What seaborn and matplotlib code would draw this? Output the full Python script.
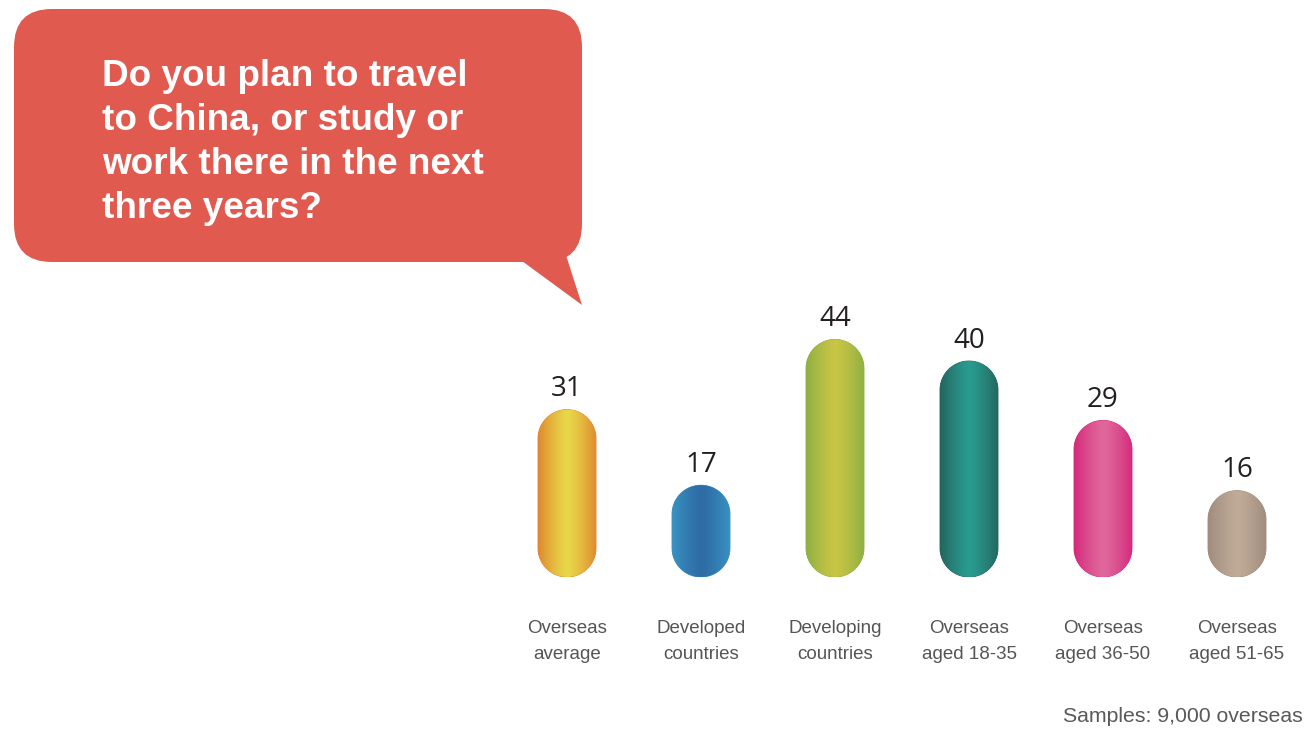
import numpy as np
import pandas as pd
import matplotlib
matplotlib.use("Agg")
import matplotlib.pyplot as plt
import seaborn as sns
from matplotlib.patches import FancyBboxPatch, Polygon, PathPatch
from matplotlib.path import Path
from matplotlib.colors import to_rgb

# ---- data ----
categories = ["Overseas\naverage", "Developed\ncountries", "Developing\ncountries",
              "Overseas\naged 18-35", "Overseas\naged 36-50", "Overseas\naged 51-65"]
values = [31, 17, 44, 40, 29, 16]
edge_colors = ["#E0872F", "#3B93C3", "#8DB043", "#23655E", "#D4297A", "#A08B7E"]
center_colors = ["#E7D84A", "#2E6CA6", "#C9C545", "#2A9B8F", "#E0679C", "#BFAB97"]

question = "Do you plan to travel\nto China, or study or\nwork there in the next\nthree years?"
footnote = "Samples: 9,000 overseas"

sns.set_theme(style="white")
plt.rcParams["font.family"] = ["Liberation Sans", "DejaVu Sans"]

W, H = 1306, 730
fig = plt.figure(figsize=(W / 100, H / 100), dpi=100)
fig.patch.set_facecolor("white")

# ---- speech bubble with the question ----
deco = fig.add_axes([0, 0, 1, 1])
deco.set_xlim(0, W)
deco.set_ylim(H, 0)
deco.axis("off")
bubble_color = "#E05A4F"
deco.add_patch(FancyBboxPatch((14, 9), 568, 253,
                              boxstyle="round,pad=0,rounding_size=38",
                              facecolor=bubble_color, edgecolor="none"))
deco.add_patch(Polygon([(522, 261), (582, 305), (565, 252)], closed=True,
                       facecolor=bubble_color, edgecolor="none"))
deco.text(102, 59, question, color="white", fontsize=26.6, fontweight="bold",
          ha="left", va="top", linespacing=1.33)
deco.text(1303, 717, footnote, color="#595959", fontsize=15.3,
          ha="right", va="center")

# ---- pill bar chart ----
ax = fig.add_axes([500 / W, (H - 577) / H, 804 / W, 270 / H])
df = pd.DataFrame({"group": categories, "share": values})
sns.barplot(data=df, x="group", y="share", ax=ax, width=0.433,
            color="#cccccc", order=categories)
ymax = 50
ax.set_xlim(-0.5, len(categories) - 0.5)
ax.set_ylim(0, ymax)

px_per_x = 804 / len(categories)
px_per_y = 270 / ymax


def gradient_row(edge, center, n=256):
    e = np.array(to_rgb(edge))
    c = np.array(to_rgb(center))
    t = np.linspace(-1, 1, n)
    w = 1 - np.abs(t) ** 1.3
    return (e[None, :] * (1 - w[:, None]) + c[None, :] * w[:, None])[None, :, :]


def pill_path(x0, bw, h, ry):
    """Closed capsule outline: semicircular caps at both ends of a bar."""
    cx, rx = x0 + bw / 2, bw / 2
    t_bot = np.linspace(np.pi, 2 * np.pi, 60)
    t_top = np.linspace(0, np.pi, 60)
    xs = np.concatenate([cx + rx * np.cos(t_bot), cx + rx * np.cos(t_top)])
    ys = np.concatenate([ry + ry * np.sin(t_bot), (h - ry) + ry * np.sin(t_top)])
    verts = np.column_stack([xs, ys])
    verts = np.vstack([verts, verts[:1]])
    codes = [Path.MOVETO] + [Path.LINETO] * (len(verts) - 2) + [Path.CLOSEPOLY]
    return Path(verts, codes)


for bar, v, ec, cc in zip(list(ax.patches), values, edge_colors, center_colors):
    x0 = bar.get_x()
    bw = bar.get_width()
    h = bar.get_height()
    bar.set_visible(False)
    ry = (bw / 2) * px_per_x / px_per_y
    path = pill_path(x0, bw, h, ry)
    # solid antialiased base under the gradient keeps the outline smooth
    ax.add_patch(PathPatch(path, facecolor=ec, edgecolor=ec, lw=0.6, zorder=1.5))
    clip = PathPatch(path, facecolor="none", edgecolor="none")
    ax.add_patch(clip)
    img = ax.imshow(gradient_row(ec, cc), extent=[x0, x0 + bw, 0, h],
                    aspect="auto", interpolation="bilinear", zorder=2)
    img.set_clip_path(clip)
    ax.annotate(str(v), xy=(x0 + bw / 2, h), xytext=(0, 9.5),
                textcoords="offset points", ha="center", va="baseline",
                fontsize=20, color="#231F20", family=["Open Sans", "DejaVu Sans"])

ax.set_xlim(-0.5, len(categories) - 0.5)
ax.set_ylim(0, ymax)
ax.set_xlabel("")
ax.set_ylabel("")
ax.set_yticks([])
for s in ax.spines.values():
    s.set_visible(False)
ax.patch.set_alpha(0)
ax.tick_params(axis="x", length=0, pad=31, labelsize=13.5, labelcolor="#555555")
for lbl in ax.get_xticklabels():
    lbl.set_linespacing(1.65)

fig.savefig("out.png", dpi=100, facecolor="white")
